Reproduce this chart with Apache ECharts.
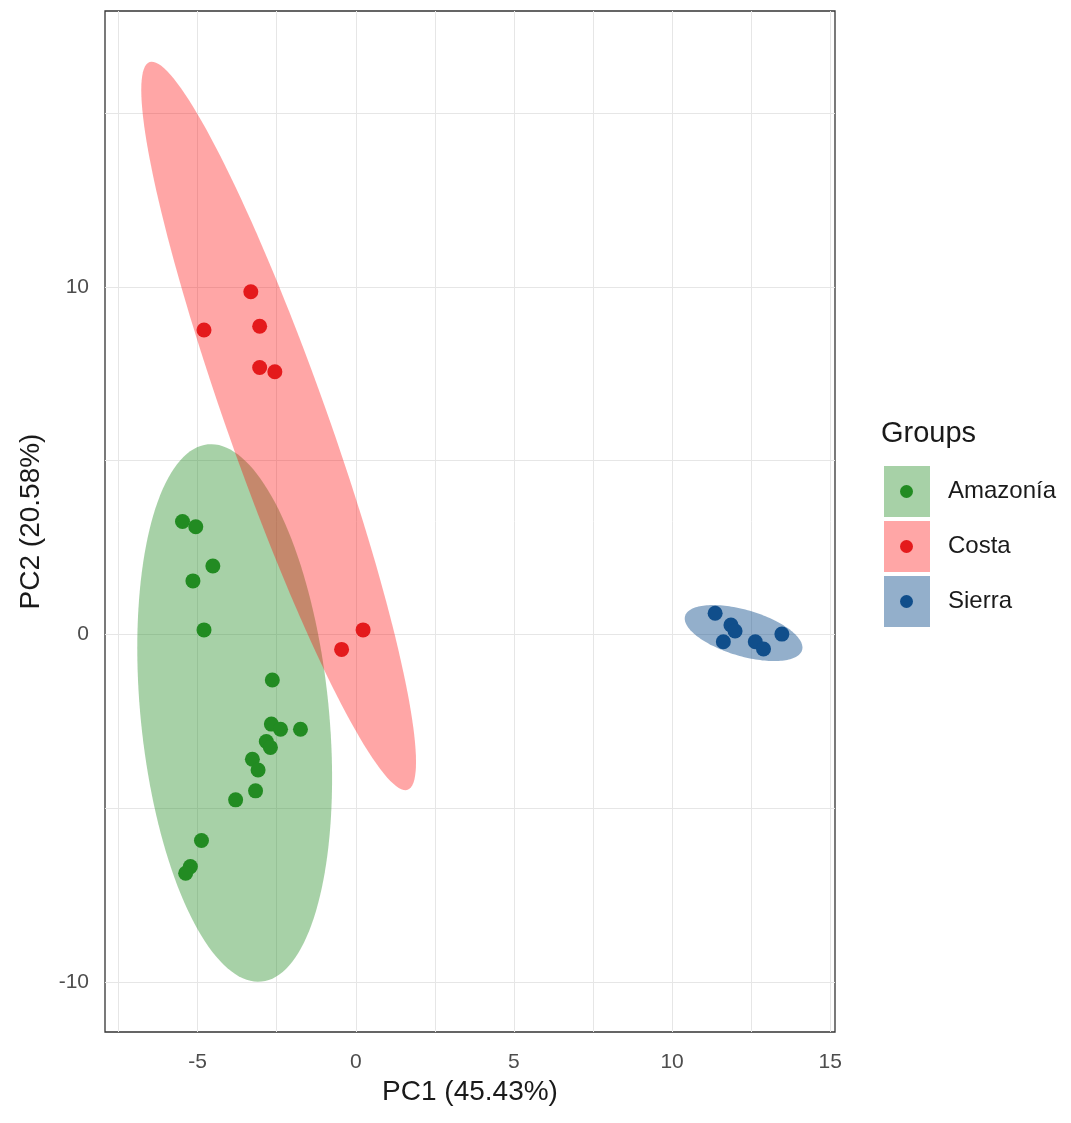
<!DOCTYPE html>
<html>
<head>
<meta charset="utf-8">
<script src="https://cdn.jsdelivr.net/npm/echarts@6/dist/echarts.min.js"></script>
<style>
  html, body { margin: 0; padding: 0; background: #fff; }
  #pca { width: 1071px; height: 1123px; }
</style>
</head>
<body>
<div id="pca"></div>
<script>
var groups = ['Amazonía', 'Costa', 'Sierra'];

// PC1, PC2 scores
var amazonia = [
    [-5.48, 3.25], [-5.06, 3.10], [-4.52, 1.97], [-5.15, 1.54], [-4.80, 0.13],
    [-2.64, -1.31], [-2.67, -2.58], [-2.38, -2.73], [-1.75, -2.73], [-2.83, -3.08],
    [-2.70, -3.25], [-3.27, -3.59], [-3.09, -3.90], [-3.17, -4.50], [-3.80, -4.76],
    [-4.88, -5.93], [-5.23, -6.68], [-5.38, -6.87]
];
var costa = [
    [-3.32, 9.86], [-4.80, 8.76], [-3.04, 8.87], [-3.04, 7.68], [-2.56, 7.56],
    [0.23, 0.13], [-0.45, -0.43]
];
var sierra = [
    [11.36, 0.61], [11.86, 0.27], [11.99, 0.10], [11.62, -0.21], [12.63, -0.21],
    [12.89, -0.42], [13.47, 0.01]
];

// confidence ellipses: centre, half major axis vector, half minor axis vector
var ellipseCenter = [[-3.83, -2.26], [-2.44, 6.00], [12.26, 0.04]];
var ellipseMajor = [[-0.85, 7.73], [-4.08, 10.47], [1.85, -0.49]];
var ellipseMinor = [[2.96, 0.27], [1.49, 0.48], [0.20, 0.64]];

var xTicks = [-5, 0, 5, 10, 15];
var yTicks = [-10, 0, 10];
var xGrid = [-7.5, -5, -2.5, 0, 2.5, 5, 7.5, 10, 12.5, 15];
var yGrid = [-10, -5, 0, 5, 10, 15];

var pointColors = ['#228b22', '#e41a1c', '#104e8b'];
var fillColors = ['rgba(34,139,34,0.4)', 'rgba(255,0,0,0.35)', 'rgba(16,78,139,0.45)'];
var points = [amazonia, costa, sierra];

var font = 'Liberation Sans, Arial, sans-serif';

function renderEllipse(params, api) {
    var cx = api.value(0), cy = api.value(1);
    var ux = api.value(2), uy = api.value(3);
    var vx = api.value(4), vy = api.value(5);
    var pts = [];
    for (var i = 0; i < 160; i++) {
        var t = i / 160 * Math.PI * 2;
        pts.push(api.coord([
            cx + ux * Math.cos(t) + vx * Math.sin(t),
            cy + uy * Math.cos(t) + vy * Math.sin(t)
        ]));
    }
    return {
        type: 'polygon',
        shape: { points: pts },
        style: { fill: api.visual('color') }
    };
}

var dom = document.getElementById('pca');
var myChart = echarts.init(dom);

var series = [];
var gridLines = [];
xGrid.forEach(function (v) { gridLines.push({ xAxis: v }); });
yGrid.forEach(function (v) { gridLines.push({ yAxis: v }); });
series.push({
    name: 'grid',
    type: 'scatter',
    data: [],
    z: 1,
    silent: true,
    markLine: {
        z: 1,
        silent: true,
        symbol: 'none',
        label: { show: false },
        lineStyle: { color: '#e6e6e6', width: 1, type: 'solid' },
        data: gridLines
    }
});

groups.forEach(function (g, i) {
    series.push({
        name: g,
        type: 'custom',
        z: 2,
        renderItem: renderEllipse,
        itemStyle: { color: fillColors[i] },
        encode: { x: 0, y: 1 },
        data: [[ellipseCenter[i][0], ellipseCenter[i][1],
                ellipseMajor[i][0], ellipseMajor[i][1],
                ellipseMinor[i][0], ellipseMinor[i][1]]]
    });
});
groups.forEach(function (g, i) {
    series.push({
        name: g,
        type: 'scatter',
        z: 3,
        symbol: 'circle',
        symbolSize: 15,
        itemStyle: { color: pointColors[i], opacity: 1 },
        data: points[i]
    });
});

option = {
    animation: false,
    backgroundColor: '#fff',
    title: {
        text: 'Groups',
        left: 881,
        top: 419,
        padding: 0,
        textStyle: { fontFamily: font, fontSize: 29, fontWeight: 'normal', color: '#1a1a1a' }
    },
    legend: [
        {
            orient: 'vertical',
            left: 884,
            top: 466,
            padding: 0,
            itemWidth: 46,
            itemHeight: 51,
            itemGap: 4,
            textStyle: { fontFamily: font, fontSize: 24, color: '#1a1a1a', padding: [0, 0, 0, 13] },
            data: groups.map(function (g, i) {
                return { name: g, icon: 'rect', itemStyle: { color: fillColors[i] } };
            })
        },
        {
            orient: 'vertical',
            left: 900,
            top: 485,
            padding: 0,
            z: 6,
            itemWidth: 13,
            itemHeight: 13,
            itemGap: 42,
            formatter: function () { return ''; },
            textStyle: { fontSize: 8, lineHeight: 8 },
            data: groups.map(function (g, i) {
                return { name: g, icon: 'circle', itemStyle: { color: pointColors[i] } };
            })
        }
    ],
    grid: {
        left: 105,
        top: 11,
        width: 730,
        height: 1021,
        show: true,
        backgroundColor: '#fff',
        borderColor: '#333',
        borderWidth: 1.3
    },
    xAxis: {
        type: 'value',
        min: -7.93,
        max: 15.15,
        name: 'PC1 (45.43%)',
        nameLocation: 'middle',
        nameGap: 37,
        nameTextStyle: { fontFamily: font, fontSize: 28, color: '#1a1a1a' },
        axisLine: { show: false },
        axisTick: { show: true, length: 6, customValues: xTicks, lineStyle: { color: '#333' } },
        axisLabel: { customValues: xTicks, margin: 20, fontFamily: font, fontSize: 21, color: '#4d4d4d' },
        splitLine: { show: false }
    },
    yAxis: {
        type: 'value',
        min: -11.44,
        max: 17.94,
        name: 'PC2 (20.58%)',
        nameLocation: 'middle',
        nameGap: 60,
        nameTextStyle: { fontFamily: font, fontSize: 28, color: '#1a1a1a' },
        axisLine: { show: false },
        axisTick: { show: true, length: 6, customValues: yTicks, lineStyle: { color: '#333' } },
        axisLabel: { customValues: yTicks, margin: 16, fontFamily: font, fontSize: 21, color: '#4d4d4d' },
        splitLine: { show: false }
    },
    series: series
};

if (option && typeof option === "object") {
    myChart.setOption(option, true);
}
</script>
</body>
</html>
